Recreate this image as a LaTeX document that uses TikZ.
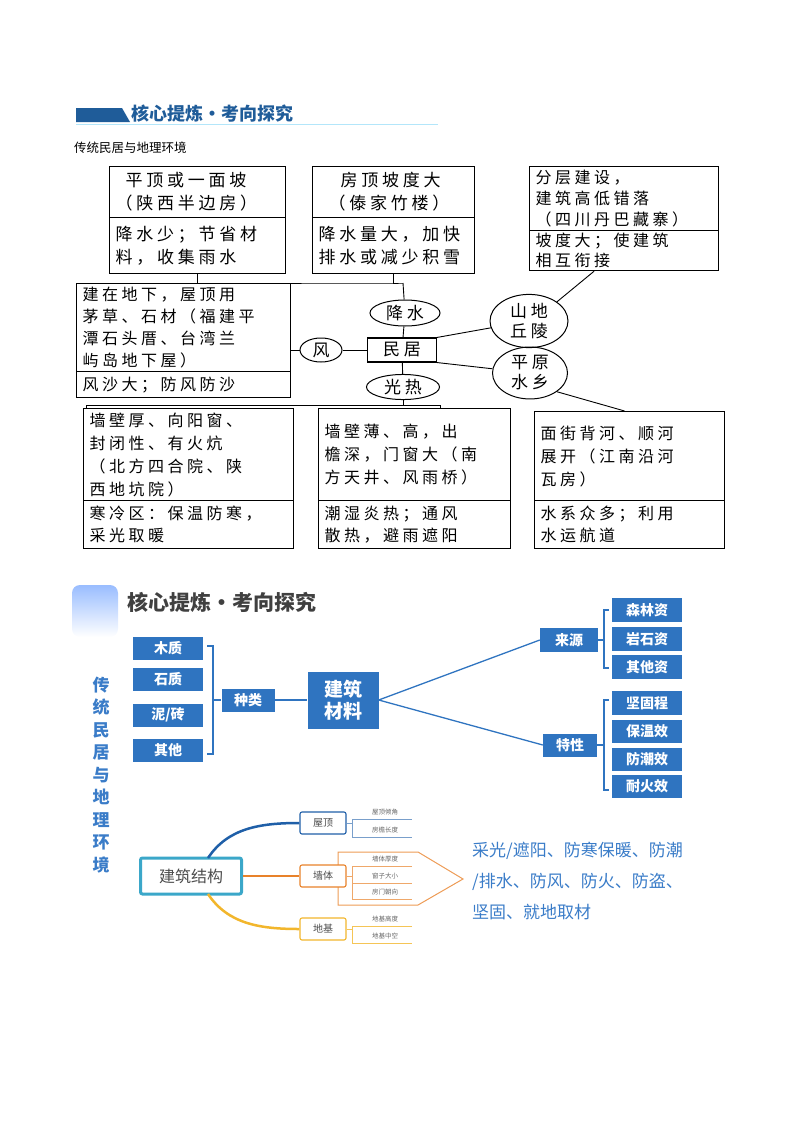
\documentclass[tikz,border=0pt]{standalone}
\usepackage{fontspec}
\setmainfont{Noto Sans CJK SC}
\newfontfamily\tf[LetterSpace=22]{Noto Sans CJK SC}
\usetikzlibrary{shapes.geometric}
\definecolor{bb}{HTML}{2F74C0}
\definecolor{tblue}{HTML}{1F5C99}
\definecolor{cy}{HTML}{3BA7C9}
\definecolor{dk}{HTML}{1F5FA8}
\definecolor{orn}{HTML}{E8822A}
\definecolor{yel}{HTML}{F2B62C}
\definecolor{rt}{HTML}{3A7CC8}
\begin{document}
\begin{tikzpicture}[x=1pt,y=-1pt,
 bx/.style={draw,line width=1.2pt,rectangle,anchor=north west,align=left,inner xsep=6pt,inner ysep=2pt,font=\tf\fontsize{17}{23}\selectfont},
 el/.style={draw,line width=1pt,ellipse,inner sep=1pt,font=\tf\fontsize{17}{21}\selectfont},
 ln/.style={line width=0.9pt},
 blu/.style={fill=bb,text=white,minimum width=70pt,minimum height=23pt,inner sep=0,font=\bfseries\fontsize{14}{16}\selectfont},
 br/.style={bb,line width=1.3pt},
 sb/.style={draw,line width=1.1pt,rounded corners=2pt,fill=white,minimum width=46pt,minimum height=22pt,inner sep=0,font=\fontsize{10}{12}\selectfont,text=black!70},
 st/.style={font=\fontsize{6.5}{8}\selectfont,text=black!60,anchor=south},
]
\useasboundingbox (0,0) rectangle (800,1132);
% ---------- top header
\fill[tblue] (76,108) -- (122,108) -- (130,122) -- (76,122) -- cycle;
\node[anchor=west,text=tblue,font=\bfseries\fontsize{18}{20}\selectfont,inner sep=0] (h1) at (131,114) {核心提炼·考向探究};
\draw[cyan!30,line width=0.8pt] (76,124) -- (438,124);
\node[anchor=west,inner sep=0,font=\fontsize{12.5}{14}\selectfont] (h2) at (74,148) {传统民居与地理环境};
% boxes top row
\node[bx,minimum width=176pt,minimum height=51pt,text width=164pt] (a1) at (109,166) {\hspace*{10pt}平顶或一面坡\\（陕西半边房）};
\node[bx,minimum width=176pt,minimum height=56pt,text width=164pt] (a2) at (109,217) {降水少；节省材\\料，收集雨水};
\node[bx,minimum width=162pt,minimum height=51pt,text width=150pt] (b1) at (312,166) {\hspace*{22pt}房顶坡度大\\\hspace*{10pt}（傣家竹楼）};
\node[bx,minimum width=162pt,minimum height=56pt,text width=150pt] (b2) at (312,217) {降水量大，加快\\排水或减少积雪};
\node[bx,minimum width=189pt,minimum height=64pt,text width=177pt,font=\tf\fontsize{16}{21}\selectfont] (c1) at (529,166) {分层建设，\\建筑高低错落\\（四川丹巴藏寨）};
\node[bx,minimum width=189pt,minimum height=40pt,text width=177pt,font=\tf\fontsize{16}{20}\selectfont] (c2) at (529,230) {坡度大；使建筑\\相互衔接};
% left box
\node[bx,minimum width=214pt,minimum height=88pt,text width=202pt,font=\tf\fontsize{16}{22}\selectfont] (l1) at (76,283) {建在地下，屋顶用\\茅草、石材（福建平\\潭石头厝、台湾兰\\屿岛地下屋）};
\node[bx,minimum width=214pt,minimum height=26pt,text width=202pt,font=\tf\fontsize{16}{20}\selectfont] (l2) at (76,371) {风沙大；防风防沙};
% center
\node[el,minimum width=70pt,minimum height=26pt] (js) at (405,313) {降水};
\node[draw,line width=1.1pt,minimum width=69pt,minimum height=24pt,inner sep=0,font=\tf\fontsize{17}{21}\selectfont] (mj) at (402,350) {民居};
\node[el,minimum width=42pt,minimum height=24pt] (f) at (321,350) {风};
\node[el,minimum width=73pt,minimum height=25pt] (gr) at (403,387) {光热};
\node[el,minimum width=78pt,minimum height=45pt,align=center,font=\tf\fontsize{17}{20}\selectfont] (sd) at (529,321) {山地\\丘陵};
\node[el,minimum width=75pt,minimum height=47pt,align=center,font=\tf\fontsize{17}{20}\selectfont] (py) at (530,373) {平原\\水乡};
% bottom row
\node[bx,minimum width=210pt,minimum height=92pt,text width=198pt,font=\tf\fontsize{16}{23}\selectfont] (d1) at (83,408) {墙壁厚、向阳窗、\\封闭性、有火炕\\（北方四合院、陕\\西地坑院）};
\node[bx,minimum width=210pt,minimum height=48pt,text width=198pt,font=\tf\fontsize{16}{22}\selectfont] (d2) at (83,500) {寒冷区：保温防寒，\\采光取暖};
\node[bx,minimum width=192pt,minimum height=92pt,text width=180pt,font=\tf\fontsize{16}{23}\selectfont] (e1) at (318,408) {墙壁薄、高，出\\檐深，门窗大（南\\方天井、风雨桥）};
\node[bx,minimum width=192pt,minimum height=48pt,text width=180pt,font=\tf\fontsize{16}{22}\selectfont] (e2) at (318,500) {潮湿炎热；通风\\散热，避雨遮阳};
\node[bx,minimum width=190pt,minimum height=89pt,text width=178pt,font=\tf\fontsize{16}{23}\selectfont] (g1) at (534,411) {面街背河、顺河\\展开（江南沿河\\瓦房）};
\node[bx,minimum width=190pt,minimum height=48pt,text width=178pt,font=\tf\fontsize{16}{22}\selectfont] (g2) at (534,500) {水系众多；利用\\水运航道};
% connectors top
\coordinate (t1) at (403,283);
\coordinate (t2) at (403,405);
\coordinate (t3) at (440,405);
\draw[ln] (a2.south) |- (t1) -| (b2.south);
\draw[ln] (t1) -- (js);
\draw[ln] (js) -- (mj);
\draw[ln] (mj) -- (gr);
\draw[ln] (gr) -- (t2);
\draw[ln] ([xshift=-102pt]d1.north |- t2) coordinate (t4) -- (t3) -- (e1.north -| t3);
\draw[ln] (t4) -- (t4 |- d1.north);
\draw[ln] (l1.east |- f) -- (f) -- (mj);
\draw[ln] (mj.north east) -- (sd);
\draw[ln] (mj.south east) -- (py);
\draw[ln] (sd.north east) -- ([xshift=-30pt]c2.south);
\draw[ln] (py.south east) -- ([xshift=-5pt]g1.north);
% ---------- bottom panel
\shade[top color=cyan!35!blue!40,bottom color=white,rounded corners=8pt] (72,585) rectangle (118,637);
\node[anchor=west,inner sep=0,text=black!75,font=\bfseries\fontsize{21}{24}\selectfont] (h3) at (127,602) {核心提炼•考向探究};
\node[text=rt,align=center,font=\bfseries\fontsize{17}{22.5}\selectfont,inner sep=0] (vt) at (101,775) {传\\统\\民\\居\\与\\地\\理\\环\\境};
\node[blu] (m1) at (168,648) {木质};
\node[blu] (m2) at (168,679) {石质};
\node[blu] (m3) at (168,715) {泥/砖};
\node[blu] (m4) at (168,750) {其他};
\node[blu,minimum width=53pt] (zl) at (248,700) {种类};
\node[blu,minimum width=71pt,minimum height=57pt,align=center,font=\bfseries\fontsize{19}{22}\selectfont] (jc) at (343,700) {建筑\\材料};
\node[blu,minimum width=58pt,minimum height=24pt] (ly) at (569,640) {来源};
\node[blu,minimum width=54pt,minimum height=23pt] (tx) at (570,745) {特性};
\node[blu,minimum height=24pt] (r1) at (647,610) {森林资};
\node[blu,minimum height=24pt] (r2) at (647,639) {岩石资};
\node[blu,minimum height=24pt] (r3) at (647,667) {其他资};
\node[blu,minimum height=24pt] (s1) at (647,703) {坚固程};
\node[blu,minimum height=23pt] (s2) at (647,731) {保温效};
\node[blu,minimum height=23pt] (s3) at (647,759) {防潮效};
\node[blu,minimum height=23pt] (s4) at (647,786) {耐火效};
\draw[br] (207,646) -- (213,646) -- (213,754) -- (207,754);
\draw[br] (213,700) -- (zl.west);
\draw[br] (zl) -- (jc);
\draw[br] (jc.east) -- (ly.west);
\draw[br] (jc.east) -- (tx.west);
\draw[br] (609,610) -- (604,610) -- (604,668) -- (609,668);
\draw[br] (ly.east) -- (604,640);
\draw[br] (609,700) -- (604,700) -- (604,790) -- (609,790);
\draw[br] (tx.east) -- (604,745);
% structure
\draw[orn!80,line width=1pt] (338,852) -- (418,852) -- (463,879) -- (418,905) -- (338,905) -- cycle;
\node[draw=cy,line width=3pt,rounded corners=2pt,fill=white,minimum width=101pt,minimum height=36pt,inner sep=0,text=black!70,font=\fontsize{16}{18}\selectfont] (jg) at (191,876) {建筑结构};
\node[sb,draw=dk] (wd) at (323,823) {屋顶};
\node[sb,draw=orn] (qt) at (323,876) {墙体};
\node[sb,draw=yel] (dj) at (323,929) {地基};
\draw[dk,line width=2.5pt] (208,858) .. controls (228,828) and (260,823) .. (wd.west);
\draw[orn,line width=2.5pt] (jg.east) -- (qt.west);
\draw[yel,line width=2.5pt] (208,894) .. controls (228,924) and (260,929) .. (dj.west);
% sub-items
\draw[dk!60,line width=0.9pt] (wd.east) -- (352,823) (352,819) |- (412,837) (352,819) -- (412,819);
\node[st] (w1) at (385,819) {屋顶倾角};
\node[st] (w2) at (385,837) {房檐长度};
\draw[orn!70,line width=0.9pt] (qt.east) -- (352,876) (412,866) -- (352,866) |- (412,899) (352,883) -- (412,883);
\node[st] (q1) at (385,866) {墙体厚度};
\node[st] (q2) at (385,883) {窗子大小};
\node[st] (q3) at (385,899) {房门朝向};
\draw[yel!80,line width=0.9pt] (dj.east) -- (352,929) (412,926) -- (352,926) |- (412,943);
\node[st] (g5) at (385,926) {地基高度};
\node[st] (g6) at (385,943) {地基中空};
\node[anchor=north west,align=left,text=rt,inner sep=0,font=\fontsize{17}{31}\selectfont] (txt) at (472,842) {采光/遮阳、防寒保暖、防潮\\/排水、防风、防火、防盗、\\坚固、就地取材};
\end{tikzpicture}
\end{document}
